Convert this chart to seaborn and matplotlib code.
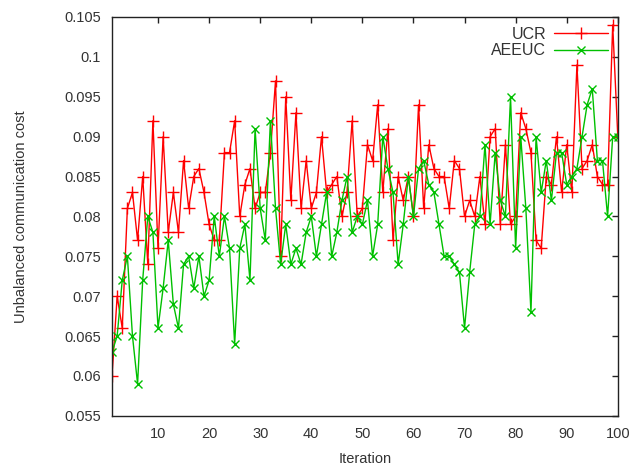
import numpy as np
import pandas as pd
import matplotlib
matplotlib.use('Agg')
import matplotlib.pyplot as plt
import seaborn as sns

iterations = list(range(1, 101))

ucr = [0.060, 0.070, 0.066, 0.081, 0.083, 0.077, 0.085, 0.074, 0.092, 0.076,
       0.090, 0.078, 0.083, 0.078, 0.087, 0.081, 0.085, 0.086, 0.083, 0.079,
       0.077, 0.077, 0.088, 0.088, 0.092, 0.080, 0.084, 0.086, 0.081, 0.083,
       0.083, 0.088, 0.097, 0.075, 0.095, 0.082, 0.093, 0.081, 0.087, 0.081,
       0.083, 0.090, 0.083, 0.084, 0.085, 0.080, 0.083, 0.092, 0.080, 0.081,
       0.089, 0.087, 0.094, 0.083, 0.091, 0.077, 0.085, 0.082, 0.085, 0.080,
       0.094, 0.081, 0.089, 0.086, 0.085, 0.085, 0.081, 0.087, 0.086, 0.080,
       0.082, 0.080, 0.085, 0.079, 0.090, 0.091, 0.079, 0.089, 0.079, 0.080,
       0.093, 0.091, 0.088, 0.077, 0.076, 0.085, 0.084, 0.090, 0.083, 0.089,
       0.083, 0.099, 0.086, 0.087, 0.089, 0.085, 0.084, 0.084, 0.104, 0.090]

aeeuc = [0.063, 0.065, 0.072, 0.075, 0.065, 0.059, 0.072, 0.080, 0.078, 0.066,
         0.071, 0.077, 0.069, 0.066, 0.074, 0.075, 0.071, 0.075, 0.070, 0.072,
         0.080, 0.075, 0.080, 0.076, 0.064, 0.076, 0.079, 0.072, 0.091, 0.081,
         0.077, 0.092, 0.081, 0.074, 0.079, 0.074, 0.076, 0.074, 0.078, 0.080,
         0.075, 0.079, 0.083, 0.075, 0.078, 0.082, 0.085, 0.078, 0.080, 0.079,
         0.082, 0.075, 0.079, 0.090, 0.086, 0.083, 0.074, 0.079, 0.085, 0.080,
         0.086, 0.087, 0.084, 0.083, 0.079, 0.075, 0.075, 0.074, 0.073, 0.066,
         0.073, 0.079, 0.080, 0.089, 0.079, 0.088, 0.082, 0.080, 0.095, 0.076,
         0.090, 0.081, 0.068, 0.090, 0.083, 0.087, 0.082, 0.088, 0.088, 0.084,
         0.085, 0.086, 0.090, 0.094, 0.096, 0.087, 0.087, 0.080, 0.090, 0.090]

ytick_labels = ['0.055', '0.06', '0.065', '0.07', '0.075', '0.08',
                '0.085', '0.09', '0.095', '0.1', '0.105']

sns.set_style('white')
plt.rcParams['font.family'] = ['Liberation Sans', 'DejaVu Sans']
plt.rcParams['font.size'] = 10.5

fig = plt.figure(figsize=(6.33, 4.72), dpi=100)
ax = fig.add_axes([0.177, 0.119, 0.799, 0.845])

# one call per series so the + / x markers keep their own colour
sns.lineplot(x=iterations, y=ucr, color='#ff0000', marker='+',
             markeredgecolor='#ff0000', markersize=8, markeredgewidth=1,
             linewidth=1, label='UCR', ax=ax)
sns.lineplot(x=iterations, y=aeeuc, color='#00c000', marker='x',
             markeredgecolor='#00c000', markersize=6, markeredgewidth=1,
             linewidth=1, label='AEEUC', ax=ax)

ax.set_xlim(1, 100)
ax.set_ylim(0.055, 0.105)
ax.set_xticks(range(10, 101, 10))
ax.set_yticks(np.linspace(0.055, 0.105, 11))
ax.set_yticklabels(ytick_labels)
ax.tick_params(direction='in', top=True, right=True, length=4, width=1,
               colors='#222222', labelcolor='#333333', pad=8)
for s in ax.spines.values():
    s.set_color('#222222')
    s.set_linewidth(1)
ax.set_xlabel('Iteration', color='#333333', labelpad=8)
ax.set_ylabel('Unbalanced communication cost', color='#333333', labelpad=26)

leg = ax.legend(loc='upper right', frameon=False, markerfirst=False,
                handlelength=3.4, labelspacing=0.1, borderaxespad=0.2,
                handletextpad=0.5, fontsize=11.5)
for t in leg.get_texts():
    t.set_color('#333333')

fig.savefig('out.png', dpi=100)
